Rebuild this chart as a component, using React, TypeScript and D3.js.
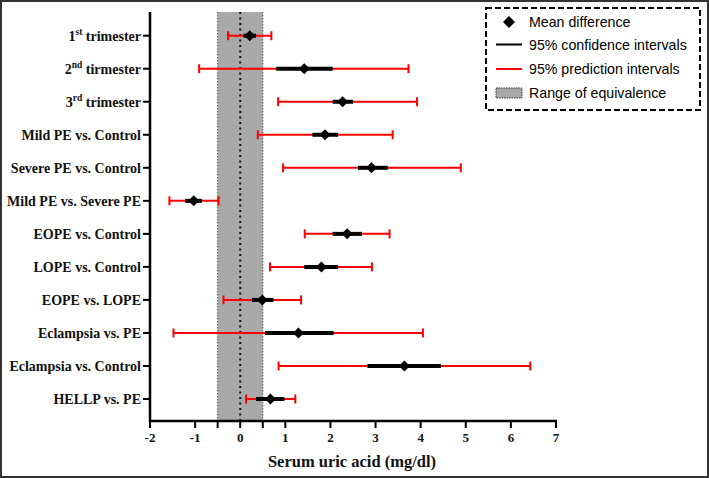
import React from "react";
import * as d3 from "d3";

const categories = [
  "1|st| trimester",
  "2|nd| tirmester",
  "3|rd| trimester",
  "Mild PE vs. Control",
  "Severe PE vs. Control",
  "Mild PE vs. Severe PE",
  "EOPE vs. Control",
  "LOPE vs. Control",
  "EOPE vs. LOPE",
  "Eclampsia vs. PE",
  "Eclampsia vs. Control",
  "HELLP vs. PE",
];
const meanDiff = [0.21, 1.42, 2.27, 1.88, 2.91, -1.03, 2.37, 1.8, 0.49, 1.29, 3.64, 0.67];
const ciLow = [0.07, 0.8, 2.05, 1.6, 2.61, -1.22, 2.05, 1.42, 0.26, 0.55, 2.82, 0.35];
const ciHigh = [0.35, 2.05, 2.5, 2.17, 3.27, -0.85, 2.7, 2.17, 0.74, 2.07, 4.45, 0.98];
const piLow = [-0.27, -0.91, 0.84, 0.39, 0.95, -1.57, 1.43, 0.66, -0.37, -1.48, 0.85, 0.13];
const piHigh = [0.69, 3.73, 3.92, 3.38, 4.89, -0.48, 3.31, 2.92, 1.35, 4.05, 6.43, 1.22];
const xTicks = [-2, -1, 0, 1, 2, 3, 4, 5, 6, 7];
const minorTicks = [-0.5, 0.5];
const equivalence = [-0.5, 0.5];
const legendItems = ["Mean difference", "95% confidence intervals", "95% prediction intervals", "Range of equivalence"];
const xTitle = "Serum uric acid (mg/dl)";

const W = 709;
const H = 478;
const serif = "'Liberation Serif', 'Times New Roman', serif";
const sans = "'Liberation Sans', Arial, sans-serif";

const diamondPath = (r: number) => `M0,${-r}L${r},0L0,${r}L${-r},0Z`;

export default function App() {
  const x = d3.scaleLinear().domain([-2, 7]).range([150, 556]);
  const y = d3.scalePoint<string>().domain(categories).range([35.7, 399]);
  const axisY = 421;
  const axisTop = 12;
  const capH = 7;

  const renderLabel = (c: string) => {
    const parts = c.split("|");
    if (parts.length === 3) {
      return (
        <>
          {parts[0]}
          <tspan dy={-6} fontSize={9.5}>{parts[1]}</tspan>
          <tspan dy={6}>{parts[2]}</tspan>
        </>
      );
    }
    return c;
  };

  return (
    <svg width={W} height={H} style={{ position: "absolute", left: 0, top: 0, background: "#fff" }}>
      <rect x={1} y={1} width={W - 2} height={H - 2} fill="#fff" stroke="#333" strokeWidth={2} />

      {/* equivalence band */}
      <rect
        x={x(equivalence[0])}
        y={axisTop}
        width={x(equivalence[1]) - x(equivalence[0])}
        height={axisY - axisTop}
        fill="#a9a9a9"
      />
      {equivalence.map((v, i) => (
        <line key={i} x1={x(v)} x2={x(v)} y1={axisTop} y2={axisY} stroke="#555" strokeWidth={1} strokeDasharray="1.5,1.5" />
      ))}
      <line x1={x(0)} x2={x(0)} y1={axisTop} y2={axisY} stroke="#111" strokeWidth={2} strokeDasharray="2,3.5" />

      {/* bars */}
      {categories.map((c, i) => {
        const cy = y(c)!;
        return (
          <g key={c}>
            <line x1={x(piLow[i])} x2={x(piHigh[i])} y1={cy} y2={cy} stroke="#ff0000" strokeWidth={2} />
            <line x1={x(piLow[i])} x2={x(piLow[i])} y1={cy - capH / 2 - 1} y2={cy + capH / 2 + 1} stroke="#ff0000" strokeWidth={2} />
            <line x1={x(piHigh[i])} x2={x(piHigh[i])} y1={cy - capH / 2 - 1} y2={cy + capH / 2 + 1} stroke="#ff0000" strokeWidth={2} />
            <line x1={x(ciLow[i])} x2={x(ciHigh[i])} y1={cy} y2={cy} stroke="#000" strokeWidth={4} />
            <path d={diamondPath(5.5)} transform={`translate(${x(meanDiff[i])},${cy})`} fill="#000" />
          </g>
        );
      })}

      {/* y axis */}
      <line x1={150} x2={150} y1={axisTop} y2={axisY + 1} stroke="#000" strokeWidth={2.5} />
      {categories.map((c) => (
        <g key={c}>
          <line x1={143} x2={150} y1={y(c)} y2={y(c)} stroke="#000" strokeWidth={2} />
          <text x={141} y={y(c)! + 5} textAnchor="end" fontFamily={serif} fontWeight="bold" fontSize={14} fill="#111">
            {renderLabel(c)}
          </text>
        </g>
      ))}

      {/* x axis */}
      <line x1={149} x2={x(7) + 1} y1={axisY} y2={axisY} stroke="#000" strokeWidth={2.5} />
      {xTicks.map((t) => (
        <g key={t}>
          <line x1={x(t)} x2={x(t)} y1={axisY} y2={axisY + 7} stroke="#000" strokeWidth={2} />
          <text x={x(t)} y={axisY + 20.5} textAnchor="middle" fontFamily={serif} fontWeight="bold" fontSize={13} fill="#111">
            {t}
          </text>
        </g>
      ))}
      {minorTicks.map((t) => (
        <line key={t} x1={x(t)} x2={x(t)} y1={axisY} y2={axisY + 7} stroke="#000" strokeWidth={2} />
      ))}
      <text x={352} y={467} textAnchor="middle" fontFamily={serif} fontWeight="bold" fontSize={16.5} fill="#111">
        {xTitle}
      </text>

      {/* legend */}
      <rect x={486} y={8} width={214} height={102} fill="#fff" stroke="#000" strokeWidth={2} strokeDasharray="6,3" />
      <path d={diamondPath(6)} transform="translate(509,22)" fill="#000" />
      <line x1={496} x2={522} y1={44.5} y2={44.5} stroke="#000" strokeWidth={2} />
      <line x1={496} x2={522} y1={69} y2={69} stroke="#ff0000" strokeWidth={2} />
      <rect x={496} y={88} width={26} height={10} fill="#a9a9a9" stroke="#333" strokeWidth={1} strokeDasharray="1.5,1" />
      {legendItems.map((t, i) => (
        <text key={t} x={529} y={[26.5, 49.5, 74, 97.5][i]} fontFamily={sans} fontSize={14.2} fill="#000">
          {t}
        </text>
      ))}
    </svg>
  );
}
